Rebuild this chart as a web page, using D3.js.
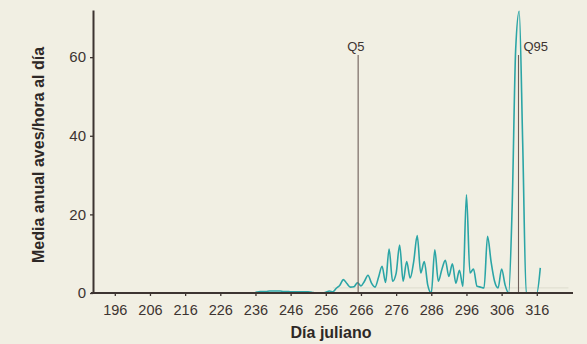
<!DOCTYPE html>
<html>
<head>
<meta charset="utf-8">
<script src="https://cdn.jsdelivr.net/npm/d3@7"></script>
<style>
  body { margin: 0; background: #f1efe3; }
  svg { display: block; font-family: "Liberation Sans", Arial, sans-serif; }
</style>
</head>
<body>
<div id="chart"></div>
<script>
// svg size
var width = 587, height = 344;
var margin = {top: 10, right: 14, bottom: 51, left: 93};

// data - day of year and mean birds/hour
var days = [236, 237, 238, 239, 240, 241, 242, 243, 244, 245, 246, 247, 248, 249, 250,
            251, 252, 253, 254, 255, 256, 257, 258, 259, 260, 261, 262, 263, 264, 265,
            266, 267, 268, 269, 270, 271, 272, 273, 274, 275, 276, 277, 278, 279, 280,
            281, 282, 283, 284, 285, 286, 287, 288, 289, 290, 291, 292, 293, 294, 295,
            296, 297, 298, 299, 300, 301, 302, 303, 304, 305, 306, 307, 308, 309, 310,
            311, 312, 313, 314, 315, 316, 317];
var values = [0.2, 0.3, 0.4, 0.4, 0.5, 0.5, 0.5, 0.5, 0.4, 0.4, 0.3, 0.3, 0.3, 0.3, 0.3,
              0.3, 0.2, 0, 0, 0, 0.2, 0.5, 0.3, 1.2, 2.0, 3.4, 2.4, 1.5, 1.6, 2.6,
              1.8, 3.0, 4.5, 2.5, 1.5, 4.0, 6.8, 2.7, 11.2, 3.0, 5.0, 12.2, 3.0, 8.0, 3.8,
              8.0, 14.6, 5.1, 8.0, 2.0, 0, 11.0, 3.0, 6.0, 8.3, 4.2, 7.4, 2.5, 5.8, 1.7,
              25.0, 5.1, 6.1, 1.7, 1.5, 1.3, 14.4, 8.0, 3.0, 1.3, 6.1, 2.0, 0, 22.0, 62.0,
              71.7, 38.0, 0, 0, 0, 0, 6.4];

// quantile markers
var quantNames = ["Q5", "Q95"];
var quantDays = [265.2, 310.8];

// ticks
var xTicks = [196, 206, 216, 226, 236, 246, 256, 266, 276, 286, 296, 306, 316];
var yTicks = [0, 20, 40, 60];

var svg = d3.select("#chart")
            .append("svg")
            .attr("width", width)
            .attr("height", height);

var x = d3.scaleLinear()
          .domain([189.8, 326.3])
          .range([margin.left, width - margin.right]);

var y = d3.scaleLinear()
          .domain([0, 72])
          .range([height - margin.bottom, margin.top]);

var axisColor = "#3d3431";
var narrow = "'Liberation Sans Narrow', 'Liberation Sans', Arial, sans-serif";

// faint reference line near the base
svg.append("line")
    .attr("x1", x(258)).attr("x2", x(325))
    .attr("y1", y(1.3)).attr("y2", y(1.3))
    .style("stroke", "#dddccd")
    .style("stroke-width", 1);

// data line
var line = d3.line()
             .x(function(d){ return x(d[0]); })
             .y(function(d){ return y(d[1]); })
             .curve(d3.curveMonotoneX);

svg.append("path")
    .datum(d3.zip(days, values))
    .attr("d", line)
    .attr("fill", "none")
    .attr("stroke", "#2ba5a6")
    .attr("stroke-width", 1.6);

// quantile lines
quantDays.forEach(function(q, i){
    svg.append("line")
        .attr("x1", x(q)).attr("x2", x(q))
        .attr("y1", 55).attr("y2", y(0))
        .style("stroke", "#6e5f5a")
        .style("stroke-width", 1.1);

    svg.append("text")
        .attr("x", i == 0 ? x(q) - 11 : x(q) + 5)
        .attr("y", 51)
        .attr("font-size", 13)
        .attr("font-family", narrow)
        .attr("fill", "#3d3431")
        .text(quantNames[i]);
});

// x axis
var xAxis = svg.append("g")
               .attr("transform", "translate(0," + y(0) + ")")
               .call(d3.axisBottom(x).tickValues(xTicks).tickSize(3).tickSizeOuter(0).tickPadding(9));
xAxis.select(".domain")
     .attr("d", "M" + (margin.left - 2) + ",0H" + (width - margin.right))
     .style("stroke", axisColor).style("stroke-width", 2);
xAxis.selectAll(".tick text")
     .attr("font-size", 14.5)
     .attr("font-family", narrow);

// y axis
var yAxis = svg.append("g")
               .attr("transform", "translate(" + margin.left + ",0)")
               .call(d3.axisLeft(y).tickValues(yTicks).tickSize(3).tickSizeOuter(0).tickPadding(4));
yAxis.select(".domain")
     .style("stroke", axisColor).style("stroke-width", 2);
yAxis.selectAll(".tick text")
     .attr("font-size", 15)
     .attr("font-family", narrow);

svg.selectAll(".tick line").style("stroke", axisColor).style("stroke-width", 1.3);
svg.selectAll(".tick text").attr("fill", "#3d3431");

// axis titles
svg.append("text")
    .attr("x", 331)
    .attr("y", 338)
    .attr("text-anchor", "middle")
    .attr("font-size", 16)
    .attr("font-weight", "bold")
    .attr("fill", "#2e2826")
    .text("Día juliano");

svg.append("text")
    .attr("transform", "translate(44,155) rotate(-90)")
    .attr("text-anchor", "middle")
    .attr("font-size", 16)
    .attr("font-weight", "bold")
    .attr("fill", "#2e2826")
    .text("Media anual aves/hora al día");
</script>
</body>
</html>
